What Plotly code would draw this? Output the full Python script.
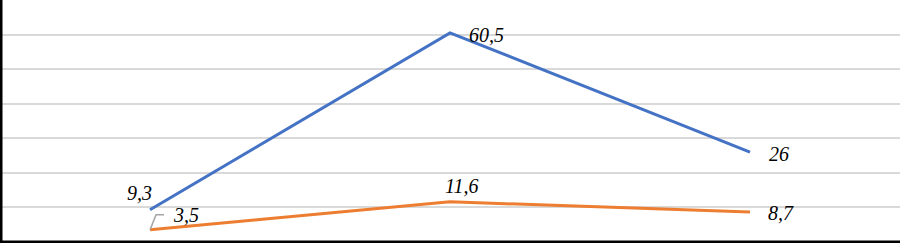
import plotly.graph_objects as go

categories = ["A", "B", "C"]
series_blue = [9.3, 60.5, 26]
series_orange = [3.5, 11.6, 8.7]
blue_labels = ["9,3", "60,5", "26"]
orange_labels = ["3,5", "11,6", "8,7"]

BLUE = "#4472C4"
ORANGE = "#ED7D31"
FONT = dict(family="Liberation Serif", size=20, color="#000000")

fig = go.Figure()
fig.add_trace(go.Scatter(x=categories, y=series_blue, mode="lines",
                         line=dict(color=BLUE, width=3), showlegend=False))
fig.add_trace(go.Scatter(x=categories, y=series_orange, mode="lines",
                         line=dict(color=ORANGE, width=3), showlegend=False))

# label offsets (pixels) relative to each point
blue_off = [(-11, 17), (36, -2), (29, -2)]
orange_off = [(36, 15), (12, 16), (31, -1)]

for cat, v, t, (dx, dy) in zip(categories, series_blue, blue_labels, blue_off):
    fig.add_annotation(x=cat, y=v, text=f"<i>{t}</i>", showarrow=False,
                       xshift=dx, yshift=dy, font=FONT)
for cat, v, t, (dx, dy) in zip(categories, series_orange, orange_labels, orange_off):
    fig.add_annotation(x=cat, y=v, text=f"<i>{t}</i>", showarrow=False,
                       xshift=dx, yshift=dy, font=FONT)

# leader line for first orange label
fig.add_shape(type="path", xref="x", yref="y", xsizemode="pixel", ysizemode="pixel",
              xanchor=categories[0], yanchor=series_orange[0],
              path="M0,0 L6,15 L14,15", line=dict(color="#A6A6A6", width=1.5))

# frame lines (left and bottom)
fig.add_shape(type="line", xref="paper", yref="paper", x0=0, x1=0, y0=0, y1=1,
              line=dict(color="black", width=5))
fig.add_shape(type="line", xref="paper", yref="paper", x0=0, x1=1, y0=0, y1=0,
              line=dict(color="black", width=5))

fig.update_layout(
    width=900, height=243,
    margin=dict(l=0, r=0, t=0, b=0),
    paper_bgcolor="white", plot_bgcolor="white",
    xaxis=dict(range=[-0.5, 2.5], showticklabels=False, showgrid=False,
               zeroline=False, showline=False, ticks=""),
    yaxis=dict(range=[-0.3, 70], dtick=10, tick0=0, showticklabels=False,
               showgrid=True, gridcolor="#D9D9D9", gridwidth=1.5,
               zeroline=False, showline=False, ticks=""),
)

fig.write_html("out.html", config={"displayModeBar": False},
               post_script="document.body.style.margin='0px';document.body.style.overflow='hidden';")
